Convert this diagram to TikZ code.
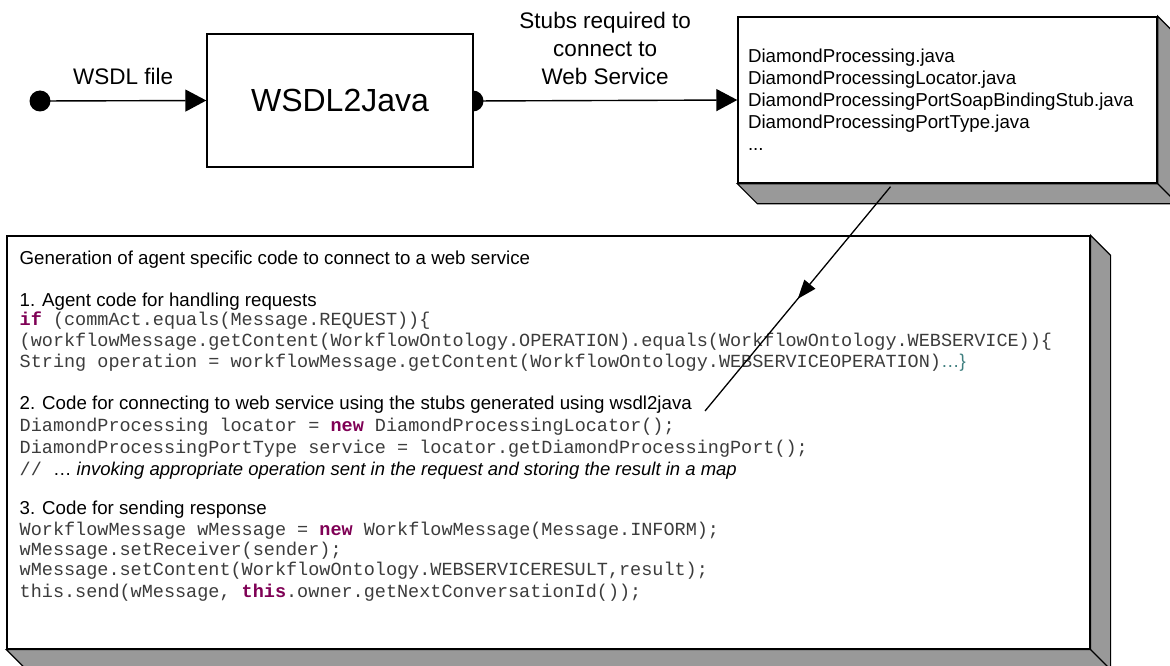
\documentclass[tikz,border=0pt]{standalone}
\usepackage{fontspec}
\setmainfont{Liberation Sans}
\setmonofont{Liberation Mono}
\usetikzlibrary{arrows.meta, positioning, decorations.markings}
\definecolor{slab}{HTML}{999999}
\definecolor{codetext}{HTML}{3C3C3C}
\definecolor{javakw}{HTML}{7F0055}
\definecolor{javabrace}{HTML}{3F7F7F}
\newcommand{\kw}[1]{\textcolor{javakw}{\textbf{#1}}}
\tikzset{
>={Triangle[length=21pt, width=22pt]}, % big filled arrow heads
tool/.style={draw, fill=white, minimum width=266pt, minimum height=133pt, font=\fontsize{32}{36}\selectfont}, % the WSDL2Java box
flowlabel/.style={font=\fontsize{22.5}{28}\selectfont, align=center}, % text on the flow arrows
filelist/.style={draw, fill=white, text width=399pt, inner xsep=10pt, inner ysep=0pt, minimum height=166pt, align=left, font=\fontsize{18.7}{22}\selectfont}, % generated stubs
panel/.style={draw, fill=white, minimum width=1083pt, minimum height=413pt}, % the agent code sheet
heading/.style={anchor=base west, inner sep=0pt, font=\fontsize{18.7}{22}\selectfont}, % plain text lines
code/.style={anchor=base west, inner sep=0pt, text=codetext, font=\ttfamily\fontsize{18.5}{21}\selectfont}, % java lines
}

\begin{document}
\begin{tikzpicture}[x=1pt, y=-1pt, line width=1.4pt]

\useasboundingbox (0,0) rectangle (1170,666);

\node[circle, fill, inner sep=0pt, minimum size=21pt] at (40,101) (wsdl) {};
\node[circle, fill, inner sep=0pt, minimum size=21pt] at (473,101) (outdot) {};
\node[tool] at (340,100.5) (w2j) {WSDL2Java};
\node[filelist] at (947.5,100) (stubs) {DiamondProcessing.java\\
DiamondProcessingLocator.java\\
DiamondProcessingPortSoapBindingStub.java\\
DiamondProcessingPortType.java\\
...};
\node[panel, line width=1.2pt] at (548.5,442.5) (agent) {};

% 3d slabs under the two sheets
\filldraw[slab, draw=black, line width=1.2pt] (stubs.north east) -- ++(20,20) -- ([shift={(20,20)}]stubs.south east)
  -- ([shift={(20,20)}]stubs.south west) -- (stubs.south west) -- (stubs.south east) -- cycle;
\draw[line width=1.2pt] (stubs.south east) -- ++(20,20);
\filldraw[slab, draw=black, line width=1.2pt] (agent.north east) -- ++(20,20) -- ([shift={(20,20)}]agent.south east)
  -- ([shift={(20,20)}]agent.south west) -- (agent.south west) -- (agent.south east) -- cycle;
\draw[line width=1.2pt] (agent.south east) -- ++(20,20);

\draw[->] (wsdl.center) -- node[flowlabel, above=12pt] (inlabel) {WSDL file} (w2j.west);
\draw[->] (outdot.center) -- node[flowlabel, above=12pt] (outlabel) {Stubs required to\\connect to\\Web Service} (stubs.west);

% text of the agent sheet
\node[heading] at (19,264) (title) {Generation of agent specific code to connect to a web service};
\node[heading] at (19,306) (step1) {1. Agent code for handling requests};
\node[code] at (19,325) (c11) {\kw{if} (commAct.equals(Message.REQUEST))\{};
\node[code] at (19,346) (c12) {(workflowMessage.getContent(WorkflowOntology.OPERATION).equals(WorkflowOntology.WEBSERVICE))\{};
\node[code] at (19,367) (c13) {String operation = workflowMessage.getContent(WorkflowOntology.WEBSERVICEOPERATION)\textcolor{javabrace}{\rmfamily…\}}};
\node[heading] at (19,409) (step2) {2. Code for connecting to web service using the stubs generated using wsdl2java};
\node[code] at (19,431) (c21) {DiamondProcessing locator = \kw{new} DiamondProcessingLocator();};
\node[code] at (19,453) (c22) {DiamondProcessingPortType service = locator.getDiamondProcessingPort();};
\node[code] at (19,475) (c23) {// {\rmfamily\color{black}… \itshape invoking appropriate operation sent in the request and storing the result in a map}};
\node[heading] at (19,514) (step3) {3. Code for sending response};
\node[code] at (19,535) (c31) {WorkflowMessage wMessage = \kw{new} WorkflowMessage(Message.INFORM);};
\node[code] at (19,555) (c32) {wMessage.setReceiver(sender);};
\node[code] at (19,575) (c33) {wMessage.setContent(WorkflowOntology.WEBSERVICERESULT,result);};
\node[code] at (19,597) (c34) {this.send(wMessage, \kw{this}.owner.getNextConversationId());};

% stubs feed the generated code
\coordinate (hook) at (705,411);
\draw[line width=1.3pt, postaction={decorate}, decoration={markings, mark=at position 0.5 with {\arrow{Triangle[length=19pt, width=14pt]}}}]
  ([xshift=-57pt, yshift=-3pt]stubs.south) -- (hook);

\end{tikzpicture}
\end{document}
